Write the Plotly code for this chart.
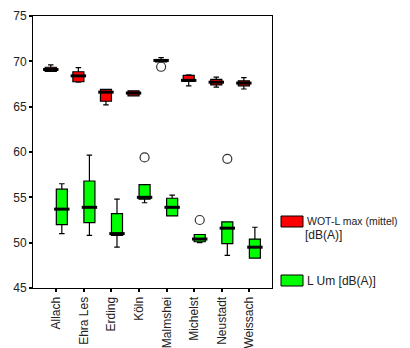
import numpy as np
import plotly.graph_objects as go

categories = ["Allach", "Ehra Les", "Erding", "Köln", "Malmshei", "Michelst", "Neustadt", "Weissach"]

# WOT-L max (mittel) [dB(A)]  (red)
wot_min = [68.9, 67.7, 65.2, 66.2, 69.95, 67.3, 67.15, 66.95]
wot_q1 = [68.9, 67.75, 65.6, 66.2, 69.95, 67.8, 67.4, 67.3]
wot_med = [69.1, 68.4, 66.6, 66.5, 70.1, 67.9, 67.7, 67.6]
wot_q3 = [69.35, 68.85, 66.9, 66.75, 70.2, 68.45, 68.0, 67.85]
wot_max = [69.6, 69.3, 66.9, 66.75, 70.4, 68.5, 68.25, 68.2]
wot_out_cat = ["Malmshei"]
wot_out_val = [69.4]

# L Um [dB(A)]  (green)
lum_min = [51.0, 50.8, 49.5, 54.4, 53.0, 50.0, 48.6, 48.3]
lum_q1 = [52.0, 52.2, 50.8, 54.8, 52.95, 50.1, 49.9, 48.3]
lum_med = [53.7, 53.9, 51.0, 55.0, 53.9, 50.4, 51.6, 49.5]
lum_q3 = [55.9, 56.8, 53.2, 56.4, 54.9, 50.9, 52.3, 50.4]
lum_max = [56.5, 59.65, 54.8, 56.4, 55.25, 50.9, 52.3, 51.7]
lum_out_cat = ["Köln", "Michelst", "Neustadt"]
lum_out_val = [59.4, 52.5, 59.25]

series_names = ["WOT-L max (mittel)", "[dB(A)]", "L Um [dB(A)]"]
y_ticks = [45, 50, 55, 60, 65, 70, 75]

idx = np.arange(len(categories))
OFF = 0.2
BW = 0.4
xr = idx - OFF
xg = idx + OFF

fig = go.Figure()

def add_series(xpos, q1, med, q3, lo, hi, fill, out_cat, out_val, off):
    fig.add_trace(go.Box(
        x=xpos, q1=q1, median=med, q3=q3, lowerfence=lo, upperfence=hi,
        width=BW, fillcolor=fill, line=dict(color="black", width=1.2),
        whiskerwidth=0.5, boxpoints=False, showlegend=False,
    ))
    fig.add_trace(go.Scatter(
        x=xpos, y=med, mode="markers", showlegend=False,
        marker=dict(symbol="line-ew", size=11, color="black",
                    line=dict(width=3, color="black")),
    ))
    ox = [categories.index(c) + off for c in out_cat]
    fig.add_trace(go.Scatter(
        x=ox, y=out_val, mode="markers", showlegend=False,
        marker=dict(symbol="circle-open", size=9, color="#333",
                    line=dict(width=1.2, color="#333")),
    ))

add_series(xr, wot_q1, wot_med, wot_q3, wot_min, wot_max, "#ff0000", wot_out_cat, wot_out_val, -OFF)
add_series(xg, lum_q1, lum_med, lum_q3, lum_min, lum_max, "#00ff00", lum_out_cat, lum_out_val, OFF)

# page has an 8px body margin: draw the figure 8px smaller and shift coordinates
PAGE = 8
W, H = 410 - PAGE, 348 - PAGE
ML, MT = 33 - PAGE, 16 - PAGE
MR = W - (272 - PAGE)
MB = H - (288 - PAGE)
PW, PH = W - ML - MR, H - MT - MB

def px(x):
    return (x - PAGE - ML) / PW

def py(y):
    return (H - MB - (y - PAGE)) / PH

shapes = [
    dict(type="rect", xref="paper", yref="paper", x0=px(281), x1=px(303), y0=py(227), y1=py(216),
         fillcolor="#ff0000", line=dict(color="black", width=1)),
    dict(type="rect", xref="paper", yref="paper", x0=px(281), x1=px(303), y0=py(286), y1=py(275),
         fillcolor="#00ff00", line=dict(color="black", width=1)),
]
annotations = [
    dict(xref="paper", yref="paper", x=px(305), y=py(221), text=series_names[0], showarrow=False,
         xanchor="left", yanchor="middle", font=dict(size=10.5, color="#222")),
    dict(xref="paper", yref="paper", x=px(303), y=py(235), text=series_names[1], showarrow=False,
         xanchor="left", yanchor="middle", font=dict(size=12, color="#222")),
    dict(xref="paper", yref="paper", x=px(305), y=py(281), text=series_names[2], showarrow=False,
         xanchor="left", yanchor="middle", font=dict(size=12, color="#222")),
]

fig.update_layout(
    width=W, height=H,
    margin=dict(l=ML, r=MR, t=MT, b=MB, pad=0, autoexpand=False),
    paper_bgcolor="white", plot_bgcolor="white",
    font=dict(family="Liberation Sans, Arial, sans-serif", size=12, color="#222"),
    showlegend=False,
    shapes=shapes, annotations=annotations,
    xaxis=dict(range=[-0.845, 7.82], tickmode="array", tickvals=idx, ticktext=categories,
               tickangle=-90, ticks="outside", ticklen=3, tickwidth=2, tickcolor="black",
               showline=True, linecolor="black", linewidth=1, mirror=True,
               showgrid=False, zeroline=False, automargin=False),
    yaxis=dict(range=[45, 75], tickmode="array", tickvals=y_ticks,
               ticks="outside", ticklen=3, tickwidth=2, tickcolor="black",
               showline=True, linecolor="black", linewidth=1, mirror=True,
               showgrid=False, zeroline=False, automargin=False),
)

fig.write_html("out.html")
